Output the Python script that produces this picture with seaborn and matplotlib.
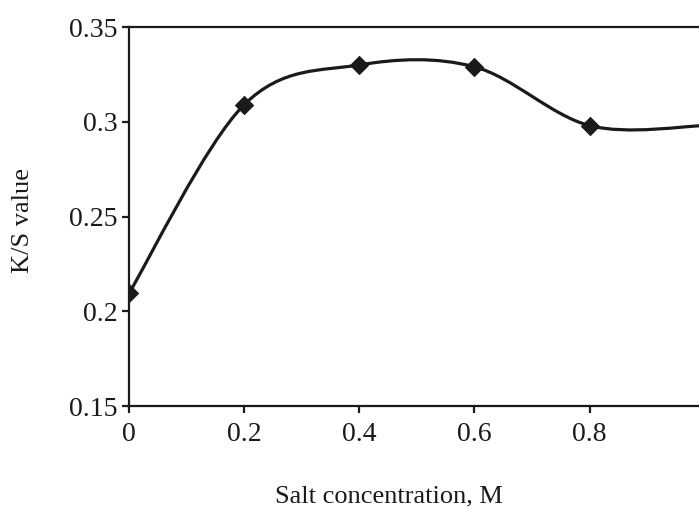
import numpy as np
import seaborn as sns
import matplotlib.pyplot as plt
from matplotlib.path import Path
from matplotlib.patches import PathPatch

# values
salt_conc = [0.0, 0.2, 0.4, 0.6, 0.8, 1.0]
ks_value = [0.2095, 0.309, 0.330, 0.329, 0.298, 0.298]

sns.set_theme(style="ticks")
plt.rcParams['font.family'] = ['Liberation Serif', 'DejaVu Serif']

INK = '#1a1a1a'


def smooth_path(x, y):
    """Excel-like smoothed line: Catmull-Rom segments as cubic Beziers."""
    x = np.asarray(x)
    y = np.asarray(y)
    px = np.concatenate([[x[0]], x, [x[-1]]])
    py = np.concatenate([[y[0]], y, [y[-1]]])
    verts = [(x[0], y[0])]
    codes = [Path.MOVETO]
    for i in range(1, len(px) - 2):
        c1 = (px[i] + (px[i + 1] - px[i - 1]) / 6, py[i] + (py[i + 1] - py[i - 1]) / 6)
        c2 = (px[i + 1] - (px[i + 2] - px[i]) / 6, py[i + 1] - (py[i + 2] - py[i]) / 6)
        verts += [c1, c2, (px[i + 1], py[i + 1])]
        codes += [Path.CURVE4] * 3
    return Path(verts, codes)


fig = plt.figure(figsize=(6.99, 5.07), dpi=100)
ax = fig.add_axes([0.1845, 0.199, 0.8155, 0.7477])

ax.add_patch(PathPatch(smooth_path(salt_conc, ks_value), facecolor='none',
                       edgecolor=INK, linewidth=2.3, zorder=2))
sns.scatterplot(x=salt_conc[:-1], y=ks_value[:-1], marker='D', s=85,
                color=INK, edgecolor=INK, zorder=3, ax=ax)

ax.set_xlim(0, 0.99)
ax.set_ylim(0.15, 0.35)
ax.set_xticks([0, 0.2, 0.4, 0.6, 0.8])
ax.set_xticklabels(['0', '0.2', '0.4', '0.6', '0.8'])
ax.set_yticks([0.15, 0.2, 0.25, 0.3, 0.35])
ax.set_yticklabels(['0.15', '0.2', '0.25', '0.3', '0.35'])

ax.spines['right'].set_visible(False)
for s in ['left', 'top', 'bottom']:
    ax.spines[s].set_linewidth(1.6)
    ax.spines[s].set_color(INK)
ax.tick_params(direction='out', length=5, width=1.6, color=INK,
               labelsize=20, labelcolor=INK, pad=3)
ax.tick_params(axis='x', pad=6.5)

ax.set_xlabel('Salt concentration, M', fontsize=19, color=INK)
ax.set_ylabel('K/S value', fontsize=19, color=INK)
ax.xaxis.set_label_coords((389 - 129) / 570, -(496 - 406) / 379)
ax.yaxis.set_label_coords(-(129 - 23) / 570, (406 - 220) / 379)
ax.xaxis.label.set_va('center')
ax.yaxis.label.set_va('center')

fig.savefig('out.png', dpi=100)
